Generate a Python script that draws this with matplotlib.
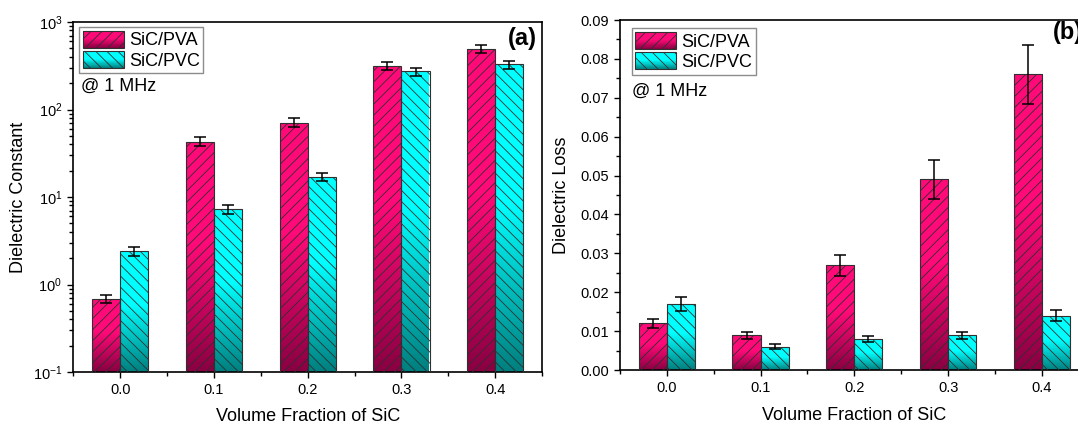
import numpy as np
import matplotlib
matplotlib.use('Agg')
import matplotlib.pyplot as plt
from matplotlib.colors import LinearSegmentedColormap
from matplotlib.patches import Rectangle
from matplotlib.legend_handler import HandlerBase
from matplotlib.image import AxesImage
import matplotlib.transforms as mtransforms
from matplotlib.ticker import LogLocator, MultipleLocator, FixedLocator, FormatStrFormatter, NullFormatter

plt.rcParams['font.family'] = ['Liberation Sans', 'DejaVu Sans']
plt.rcParams['mathtext.fontset'] = 'custom'
plt.rcParams['mathtext.rm'] = 'Liberation Sans'
plt.rcParams['mathtext.it'] = 'Liberation Sans:italic'
plt.rcParams['mathtext.bf'] = 'Liberation Sans:bold'
plt.rcParams['hatch.linewidth'] = 0.6

# ---------------- data ----------------
fractions = [0.0, 0.1, 0.2, 0.3, 0.4]
tick_labels = ['0.0', '0.1', '0.2', '0.3', '0.4']
series = ['SiC/PVA', 'SiC/PVC']

const_pva = [0.68, 43, 71, 313, 494]
const_pva_err = [0.07, 5, 8, 33, 52]
const_pvc = [2.4, 7.2, 17.1, 272, 327]
const_pvc_err = [0.27, 0.8, 1.8, 30, 36]

loss_pva = [0.012, 0.009, 0.027, 0.049, 0.076]
loss_pva_err = [0.0012, 0.0009, 0.0027, 0.0049, 0.0076]
loss_pvc = [0.017, 0.006, 0.008, 0.009, 0.014]
loss_pvc_err = [0.0017, 0.0006, 0.0008, 0.0009, 0.0014]

# ---------------- styles ----------------
cmap_pva = LinearSegmentedColormap.from_list(
    'pva', [(0.0, '#8a0042'), (0.55, '#ff0a78'), (1.0, '#ff0a78')])
cmap_pvc = LinearSegmentedColormap.from_list(
    'pvc', [(0.0, '#007f7f'), (0.55, '#00ffff'), (1.0, '#00ffff')])
cmaps = [cmap_pva, cmap_pvc]
hatches = ['///', '\\\\\\']
edge = '#303030'
bar_w = 0.03

fig = plt.figure(figsize=(10.78, 4.25), dpi=100)
ax1 = fig.add_axes([0.068, 0.1247, 0.4349, 0.8235])
ax2 = fig.add_axes([0.5751, 0.1294, 0.4349, 0.8235])


class GradHandler(HandlerBase):
    def __init__(self, cmap, hatch):
        super().__init__()
        self.cmap = cmap
        self.hatch = hatch

    def create_artists(self, legend, orig_handle, xdescent, ydescent,
                       width, height, fontsize, trans):
        arts = []
        n = 30
        for i in range(n):
            r = Rectangle((-xdescent, -ydescent + height * i / n), width,
                          height / n * 1.2, facecolor=self.cmap((i + 0.5) / n),
                          edgecolor='none', lw=0, transform=trans)
            arts.append(r)
        fr = Rectangle((-xdescent, -ydescent), width, height, facecolor='none',
                       edgecolor=edge, hatch=self.hatch, lw=0.8, transform=trans)
        arts.append(fr)
        return arts


def panel(ax, vals, errs, log, ylim, ylabel, tag, leg_anchor, txt_pos, tag_pos, tag_ha, ylab_x, xlab_y):
    x = np.array(fractions)
    if log:
        ax.set_yscale('log')
    ax.set_xlim(-0.05, 0.45)
    ax.set_ylim(*ylim)
    ax.set_autoscale_on(False)
    all_bars = []
    for s in range(2):
        xs = x + (s - 0.5) * bar_w
        bars = ax.bar(xs, vals[s], width=bar_w, facecolor='none', edgecolor=edge,
                      hatch=hatches[s], linewidth=0.8, zorder=3)
        ax.errorbar(xs, vals[s], yerr=errs[s], fmt='none', ecolor='black',
                    elinewidth=1.1, capsize=4, capthick=1.1, zorder=4)
        all_bars.append(bars)
    ax.set_xlim(-0.05, 0.45)
    ax.set_ylim(*ylim)
    trans = mtransforms.blended_transform_factory(ax.transData, ax.transAxes)
    grad = np.linspace(0, 1, 256).reshape(-1, 1)
    for s, bars in enumerate(all_bars):
        for p in bars.patches:
            x0 = p.get_x()
            x1 = x0 + p.get_width()
            top = p.get_y() + p.get_height()
            frac = (ax.transScale + ax.transLimits).transform([[x0, top]])[0][1]
            im = AxesImage(ax, cmap=cmaps[s], interpolation='bilinear', origin='lower',
                           extent=(x0, x1, 0, frac), transform=trans)
            im.set_data(grad)
            im.set_zorder(2)
            ax.add_artist(im)
            im.set_clip_path(p)

    # ticks
    ax.xaxis.set_major_locator(FixedLocator(fractions))
    ax.set_xticklabels(tick_labels)
    ax.xaxis.set_minor_locator(FixedLocator(list(np.array(fractions) - 0.05) + [0.45]))
    ax.tick_params(axis='x', which='major', direction='out', length=4.3, width=1,
                   labelsize=10.5, top=False)
    ax.tick_params(axis='x', which='minor', direction='out', length=2.9, width=1, top=False)
    ax.tick_params(axis='y', which='major', direction='out', length=4.5, width=1,
                   labelsize=10.5, right=False)
    ax.tick_params(axis='y', which='minor', direction='out', length=2.8, width=1, right=False)
    if log:
        ax.yaxis.set_major_locator(LogLocator(base=10, numticks=10))
        ax.yaxis.set_minor_locator(LogLocator(base=10, subs=np.arange(2, 10), numticks=20))
        ax.yaxis.set_minor_formatter(NullFormatter())
    else:
        ax.yaxis.set_major_locator(MultipleLocator(0.01))
        ax.yaxis.set_minor_locator(MultipleLocator(0.005))
        ax.yaxis.set_major_formatter(FormatStrFormatter('%.2f'))
    for sp in ax.spines.values():
        sp.set_linewidth(1.2)
        sp.set_color('black')

    ax.set_xlabel('Volume Fraction of SiC', fontsize=13, va='center')
    ax.set_ylabel(ylabel, fontsize=13, va='center')
    ax.xaxis.set_label_coords(0.5, xlab_y)
    ax.yaxis.set_label_coords(ylab_x, 0.5)

    h1 = Rectangle((0, 0), 1, 1)
    h2 = Rectangle((0, 0), 1, 1)
    leg = ax.legend([h1, h2], series, loc='upper left', bbox_to_anchor=leg_anchor,
                    borderaxespad=0, fontsize=13, handlelength=2.25, handleheight=1.05,
                    labelspacing=0.1, handletextpad=0.3, borderpad=0.2,
                    fancybox=False, framealpha=1, edgecolor='#8c8c8c',
                    handler_map={h1: GradHandler(cmap_pva, hatches[0]),
                                 h2: GradHandler(cmap_pvc, hatches[1])})
    leg.get_frame().set_linewidth(1.0)
    leg.set_zorder(6)
    ax.text(txt_pos[0], txt_pos[1], '@ 1 MHz', transform=ax.transAxes, fontsize=13,
            ha='left', va='center')
    ax.text(tag_pos[0], tag_pos[1], tag, transform=ax.transAxes, fontsize=17,
            fontweight='bold', ha=tag_ha, va='center')


panel(ax1, [const_pva, const_pvc], [const_pva_err, const_pvc_err], True, (0.1, 1000),
      'Dielectric Constant', '(a)', (0.0128, 0.985), (0.0158, 0.815), (0.988, 0.952), 'right',
      -0.116, -0.128)
panel(ax2, [loss_pva, loss_pvc], [loss_pva_err, loss_pvc_err], False, (0, 0.09),
      'Dielectric Loss', '(b)', (0.025, 0.976), (0.026, 0.797), (0.924, 0.964), 'left',
      -0.124, -0.129)

fig.savefig('out.png', dpi=100)
